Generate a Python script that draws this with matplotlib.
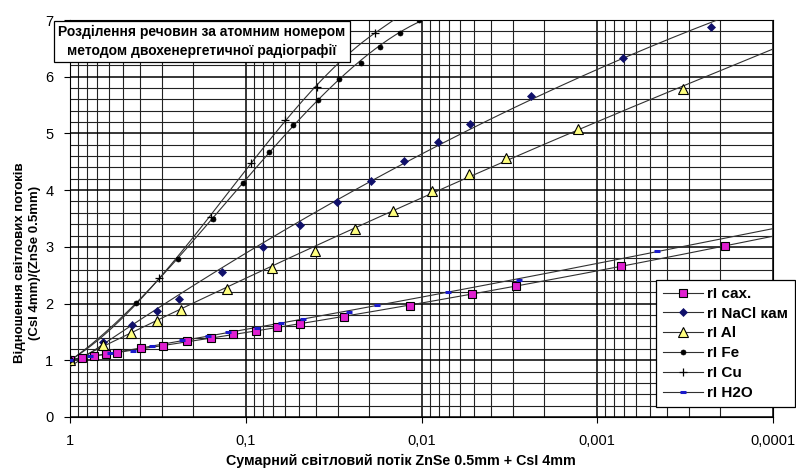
import numpy as np
import matplotlib

matplotlib.use("Agg")
import matplotlib.pyplot as plt
from matplotlib.lines import Line2D
from matplotlib.ticker import FuncFormatter, LogLocator, MultipleLocator

plt.rcParams["font.family"] = ["Liberation Sans", "DejaVu Sans"]

# x: сумарний світловий потік, y: відношення потоків
sax_x = [1.0, 0.855, 0.73, 0.625, 0.541, 0.395, 0.296, 0.216, 0.158, 0.1185, 0.0877,
         0.0667, 0.0493, 0.0277, 0.0117, 0.00513, 0.00289, 0.00073, 0.000187]
sax_y = [1.0, 1.04, 1.08, 1.11, 1.13, 1.22, 1.25, 1.34, 1.39, 1.46, 1.52,
         1.59, 1.64, 1.76, 1.96, 2.17, 2.31, 2.66, 3.02]

nacl_x = [1.0, 0.65, 0.444, 0.32, 0.24, 0.137, 0.080, 0.0493, 0.0304, 0.0195, 0.0125,
          0.0081, 0.00533, 0.00237, 0.00071, 0.000225]
nacl_y = [1.0, 1.32, 1.62, 1.87, 2.08, 2.56, 3.00, 3.39, 3.79, 4.16, 4.51,
          4.85, 5.17, 5.66, 6.33, 6.88]

al_x = [1.0, 0.65, 0.45, 0.32, 0.234, 0.128, 0.0712, 0.0405, 0.024, 0.0146, 0.00877,
        0.0054, 0.00329, 0.00128, 0.000325]
al_y = [1.0, 1.27, 1.48, 1.69, 1.89, 2.26, 2.63, 2.93, 3.32, 3.63, 3.99,
        4.29, 4.57, 5.08, 5.78]

fe_x = [1.0, 0.42, 0.243, 0.154, 0.104, 0.074, 0.054, 0.039, 0.0296, 0.0222, 0.0173,
        0.0133, 0.0103]
fe_y = [1.0, 2.01, 2.79, 3.49, 4.13, 4.67, 5.15, 5.59, 5.96, 6.24, 6.53, 6.77, 7.0]

cu_x = [1.0, 0.312, 0.158, 0.0937, 0.060, 0.0395, 0.0185]
cu_y = [1.0, 2.45, 3.53, 4.48, 5.24, 5.82, 6.77]

h2o_x = [1.0, 0.77, 0.59, 0.44, 0.34, 0.23, 0.163, 0.127, 0.086, 0.063, 0.047,
         0.026, 0.0178, 0.0071, 0.0028, 0.00046]
h2o_y = [1.0, 1.07, 1.12, 1.17, 1.25, 1.36, 1.43, 1.50, 1.57, 1.66, 1.73,
         1.86, 1.98, 2.21, 2.42, 2.92]

labels = ["rI сах.", "rI NaCl кам", "rI Al", "rI Fe", "rI Cu", "rI H2O"]
xticks = [1, 0.1, 0.01, 0.001, 0.0001]

series = [
    (sax_x, sax_y, 2, dict(marker="s", ms=5.5, mfc="#e020d0", mec="black", mew=0.8)),
    (nacl_x, nacl_y, 2, dict(marker="D", ms=4.2, mfc="#10106a", mec="#10106a", mew=0.5)),
    (al_x, al_y, 2, dict(marker="^", ms=6.5, mfc="#ffff80", mec="black", mew=0.8)),
    (fe_x, fe_y, 3, dict(marker="o", ms=3.6, mfc="black", mec="black", mew=0.5)),
    (cu_x, cu_y, 3, dict(marker="+", ms=6, mfc="black", mec="black", mew=0.9)),
    (h2o_x, h2o_y, 2, dict(marker="_", ms=5, mfc="#1a1acc", mec="#1a1acc", mew=2.2)),
]

fig = plt.figure(figsize=(7.96, 4.68), dpi=100)
ax = fig.add_axes([70 / 796, 1 - 417 / 468, 703 / 796, 397 / 468])

line_color = "#303030"
t_fit = np.linspace(0, 4, 400)
handles = []
for xs, ys, deg, st in series:
    # polynomial trendline in log(x) over the data, then carried on straight to the right edge
    t = -np.log10(np.array(xs))
    coef = np.polyfit(t, np.array(ys), deg)
    t_end = t.max()
    slope = np.polyval(np.polyder(coef), t_end)
    yf = np.where(t_fit <= t_end, np.polyval(coef, t_fit),
                  np.polyval(coef, t_end) + slope * (t_fit - t_end))
    ax.plot(10 ** (-t_fit), yf, color=line_color, lw=0.8, zorder=3)
    ax.plot(xs, ys, ls="none", zorder=4, **st)
    handles.append(Line2D([], [], color=line_color, lw=0.8, **st))

ax.set_xscale("log")
ax.set_xlim(1, 1e-4)
ax.set_ylim(0, 7)
ax.set_xticks(xticks)
ax.xaxis.set_minor_locator(LogLocator(base=10, subs=np.arange(2, 10), numticks=20))
ax.xaxis.set_major_formatter(FuncFormatter(lambda v, _: f"{v:g}".replace(".", ",")))
ax.yaxis.set_major_locator(MultipleLocator(1))
ax.yaxis.set_minor_locator(MultipleLocator(0.2))

ax.grid(which="major", color="black", lw=1.1)
ax.grid(which="minor", color="#222222", lw=0.8)
ax.set_axisbelow(True)
ax.tick_params(which="minor", length=0)
ax.tick_params(which="major", length=4, width=0.8, labelsize=10.5, pad=8)
for s in ax.spines.values():
    s.set_color("black")
    s.set_linewidth(0.8)

fig.text(0.035, 1 - 263 / 468, "Відношення світлових потоків\n(CsI 4mm)/(ZnSe 0.5mm)",
         rotation=90, ha="center", va="center", fontsize=9.5, fontweight="bold",
         multialignment="center", linespacing=1.35)
fig.text(0.503, 0.016, "Сумарний світловий потік ZnSe 0.5mm + CsI 4mm",
         ha="center", va="center", fontsize=10.3, fontweight="bold")

fig.text(202 / 796, 1 - 41.5 / 468,
         "Розділення речовин за атомним номером\nметодом двохенергетичної радіографії",
         ha="center", va="center", fontsize=10, fontweight="bold", linespacing=1.45,
         bbox=dict(boxstyle="square,pad=0.3", fc="white", ec="black", lw=0.9), zorder=10)

leg = ax.legend(handles, labels, loc="upper right", bbox_to_anchor=(0.999, 1 - 280 / 468),
                bbox_transform=fig.transFigure, frameon=True, fancybox=False,
                edgecolor="black", framealpha=1, prop=dict(weight="bold", size=11),
                handlelength=2.6, handletextpad=0.3, labelspacing=0.38, borderpad=0.45,
                borderaxespad=0)
leg.get_frame().set_linewidth(0.9)
leg.set_zorder(10)

fig.savefig("out.png", dpi=100)
